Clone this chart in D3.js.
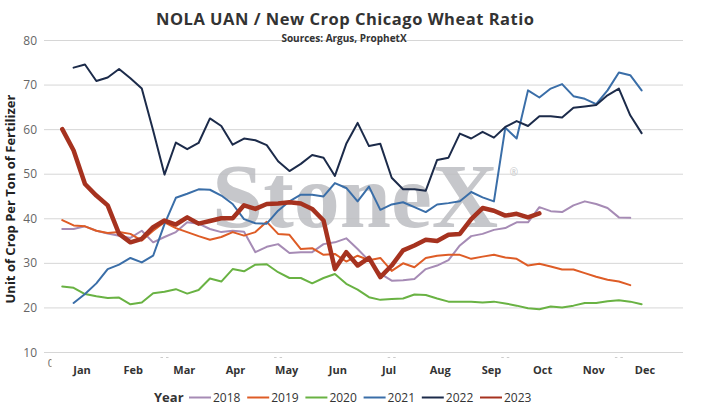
<!DOCTYPE html>
<html>
<head>
<meta charset="utf-8">
<script src="https://cdn.jsdelivr.net/npm/d3@7"></script>
<style>
  body { margin: 0; background: #fff; }
  svg { display: block; font-family: "Open Sans", sans-serif; }
</style>
</head>
<body>
<div id="chart"></div>
<script>
var width = 701;
var height = 411;

// weekly ratio values, first week of each series given in startWeeks
var years = ["2018", "2019", "2020", "2021", "2022", "2023"];
var startWeeks = [1, 1, 1, 2, 2, 1];
var colors = ["#a68bb5", "#de5c26", "#69b243", "#3a6ea8", "#1c2b4a", "#a6321f"];

var v2018 = [37.6, 37.6, 38.2, 37.2, 36.6, 36.1, 35.6, 37.2, 34.6, 35.8,
  36.9, 39.1, 38.8, 37.6, 36.9, 37.2, 37.0, 32.4, 33.6, 34.2,
  32.2, 32.4, 32.4, 34.2, 34.6, 35.5, 33.1, 30.5, 27.6, 26.0,
  26.1, 26.4, 28.6, 29.4, 30.6, 33.9, 36.0, 36.5, 37.4, 37.8,
  39.1, 39.1, 42.5, 41.6, 41.4, 42.9, 43.8, 43.2, 42.3, 40.2, 40.1];
var v2019 = [39.6, 38.4, 38.2, 37.2, 36.7, 36.9, 36.5, 35.0, 37.2, 39.1,
  37.8, 36.9, 36.0, 35.2, 35.8, 36.9, 36.1, 36.9, 39.2, 36.5,
  36.3, 33.1, 33.3, 31.8, 32.0, 30.3, 31.6, 30.6, 31.1, 28.2,
  29.9, 29.0, 31.1, 31.6, 31.8, 31.8, 30.9, 31.4, 31.8, 31.2,
  30.9, 29.4, 29.8, 29.2, 28.5, 28.5, 27.7, 26.9, 26.2, 25.8, 25.0];
var v2020 = [24.7, 24.4, 23.0, 22.5, 22.1, 22.2, 20.7, 21.1, 23.2, 23.5,
  24.1, 23.1, 23.9, 26.5, 25.8, 28.6, 28.1, 29.6, 29.7, 27.9,
  26.6, 26.6, 25.4, 26.6, 27.5, 25.3, 24.0, 22.3, 21.7, 21.9,
  22.0, 22.9, 22.8, 22.0, 21.3, 21.3, 21.3, 21.1, 21.3, 20.9,
  20.4, 19.8, 19.6, 20.2, 20.0, 20.4, 21.0, 21.0, 21.4, 21.6, 21.3, 20.7];
var v2021 = [21.0, 23.0, 25.4, 28.6, 29.6, 31.1, 30.1, 31.6, 38.7, 44.6,
  45.5, 46.5, 46.4, 45.1, 43.2, 39.8, 38.9, 38.8, 41.7, 43.8,
  45.3, 45.3, 44.9, 47.9, 46.8, 43.8, 47.1, 41.9, 43.1, 43.6,
  42.5, 41.4, 43.1, 43.4, 43.8, 45.9, 44.7, 43.8, 60.3, 57.9,
  68.7, 67.1, 69.1, 70.1, 67.4, 66.8, 65.6, 68.7, 72.7, 72.1, 68.7];
var v2022 = [73.8, 74.5, 70.8, 71.6, 73.5, 71.4, 69.1, 59.7, 49.8, 57.0,
  55.5, 56.9, 62.4, 60.7, 56.5, 57.9, 57.5, 56.4, 52.8, 50.6,
  52.2, 54.2, 53.6, 49.5, 56.7, 61.4, 56.2, 56.7, 49.1, 46.5,
  46.5, 46.2, 53.1, 53.6, 59.0, 57.9, 59.4, 58.1, 60.5, 61.8,
  60.7, 62.9, 62.9, 62.6, 64.8, 65.1, 65.4, 67.6, 69.1, 63.1, 59.1];
var v2023 = [60.0, 55.2, 47.7, 45.1, 42.9, 36.5, 34.6, 35.4, 38.0, 39.5,
  38.6, 40.2, 38.8, 39.4, 40.0, 40.0, 42.9, 42.1, 43.2, 43.3,
  43.6, 43.3, 42.1, 39.5, 28.6, 32.4, 29.4, 31.1, 26.8, 29.4,
  32.8, 33.9, 35.2, 34.9, 36.3, 36.5, 39.8, 42.3, 41.7, 40.6,
  41.0, 40.2, 41.1];
var allValues = [v2018, v2019, v2020, v2021, v2022, v2023];

var months = ["Jan", "Feb", "Mar", "Apr", "May", "Jun", "Jul", "Aug", "Sep", "Oct", "Nov", "Dec"];
var yTicks = [10, 20, 30, 40, 50, 60, 70, 80];
var weekTicks = [10, 20, 30, 40, 50];

var plotLeft = 44, plotRight = 683;

var svg = d3.select("#chart")
  .append("svg")
  .attr("width", width)
  .attr("height", height);

var x = d3.scaleLinear().domain([0, 52]).range([50.9, 641.6]);
var y = d3.scaleLinear().domain([10, 80]).range([352, 40]);
var monthScale = d3.scalePoint().domain(months).range([82, 645]);

// gridlines
svg.append("g")
  .selectAll("line")
  .data(yTicks)
  .enter().append("line")
  .attr("x1", plotLeft)
  .attr("x2", plotRight)
  .attr("y1", function(d) { return y(d) + 0.5; })
  .attr("y2", function(d) { return y(d) + 0.5; })
  .attr("stroke", "#d6d6d6")
  .attr("stroke-width", 1);

// y tick labels
svg.append("g")
  .selectAll("text")
  .data(yTicks)
  .enter().append("text")
  .attr("x", 37)
  .attr("y", function(d) { return y(d) + 4.5; })
  .attr("text-anchor", "end")
  .style("font-size", "12px")
  .attr("fill", "#666")
  .text(function(d) { return d; });

// y axis title
svg.append("text")
  .attr("transform", "translate(15,199) rotate(-90)")
  .attr("text-anchor", "middle")
  .style("font-size", "13px")
  .style("font-weight", "bold")
  .attr("fill", "#222")
  .text("Unit of Crop Per Ton of Fertilizer");

// week axis: only the "0" edge and faint tops of the other labels peek out
svg.append("clipPath")
  .attr("id", "zero-clip")
  .append("rect")
  .attr("x", 40).attr("y", 355).attr("width", 11.5).attr("height", 15);
svg.append("text")
  .attr("x", x(0))
  .attr("y", 367)
  .attr("text-anchor", "middle")
  .attr("clip-path", "url(#zero-clip)")
  .style("font-size", "11px")
  .attr("fill", "#666")
  .text("0");
svg.append("g")
  .selectAll("path")
  .data(weekTicks)
  .enter().append("path")
  .attr("d", function(d) {
    var cx = x(d);
    return "M" + (cx - 4) + ",357.5h2.5M" + (cx + 1.5) + ",357.5h2.5";
  })
  .attr("stroke", "#ccc")
  .attr("stroke-width", 1);

// month labels
svg.append("g")
  .selectAll("text")
  .data(months)
  .enter().append("text")
  .attr("x", function(d) { return monthScale(d); })
  .attr("y", 374)
  .attr("text-anchor", "middle")
  .style("font-size", "11px")
  .style("font-weight", "bold")
  .attr("fill", "#333")
  .text(function(d) { return d; });

// watermark
var mark = svg.append("g").attr("opacity", 0.85);
mark.append("text")
  .attr("x", 212)
  .attr("y", 227)
  .style("font-family", "'Liberation Serif', serif")
  .style("font-size", "92px")
  .style("font-weight", "bold")
  .attr("fill", "#bdbec2")
  .text("StoneX");
mark.append("text")
  .attr("x", 514)
  .attr("y", 176)
  .attr("text-anchor", "middle")
  .style("font-size", "10px")
  .attr("fill", "#bdbec2")
  .text("\u00AE");

// series lines
var line = d3.line()
  .x(function(d) { return x(d.week); })
  .y(function(d) { return y(d.value); });

var seriesData = years.map(function(yr, i) {
  return {
    year: yr,
    color: colors[i],
    points: allValues[i].map(function(v, j) {
      return { week: startWeeks[i] + j, value: v };
    })
  };
});

svg.append("g")
  .selectAll("path")
  .data(seriesData)
  .enter().append("path")
  .attr("d", function(d) { return line(d.points); })
  .attr("fill", "none")
  .attr("stroke", function(d) { return d.color; })
  .attr("stroke-width", function(d) { return d.year === "2023" ? 4.5 : 2; })
  .attr("stroke-linejoin", "round")
  .attr("stroke-linecap", "round");

// title
svg.append("text")
  .attr("x", 345)
  .attr("y", 25)
  .attr("text-anchor", "middle")
  .attr("textLength", 378)
  .attr("lengthAdjust", "spacing")
  .style("font-size", "16.5px")
  .style("font-weight", "bold")
  .attr("fill", "#333")
  .text("NOLA UAN / New Crop Chicago Wheat Ratio");
svg.append("text")
  .attr("x", 344)
  .attr("y", 42)
  .attr("text-anchor", "middle")
  .style("font-size", "10px")
  .style("font-weight", "bold")
  .attr("fill", "#333")
  .text("Sources: Argus, ProphetX");

// legend
var legend = svg.append("g").attr("transform", "translate(0,397)");
legend.append("text")
  .attr("x", 154)
  .attr("y", 5)
  .style("font-size", "13px")
  .style("font-weight", "bold")
  .attr("fill", "#333")
  .text("Year");
var legendScale = d3.scaleLinear().domain([0, 5]).range([189, 480]);
var items = legend.selectAll(".item")
  .data(seriesData)
  .enter().append("g")
  .attr("class", "item")
  .attr("transform", function(d, i) { return "translate(" + legendScale(i) + ",0)"; });
items.append("line")
  .attr("x1", 0)
  .attr("x2", 22)
  .attr("y1", 0.5)
  .attr("y2", 0.5)
  .attr("stroke", function(d) { return d.color; })
  .attr("stroke-width", 2);
items.append("text")
  .attr("x", 24)
  .attr("y", 5)
  .style("font-size", "12px")
  .attr("fill", "#333")
  .text(function(d) { return d.year; });
</script>
</body>
</html>
